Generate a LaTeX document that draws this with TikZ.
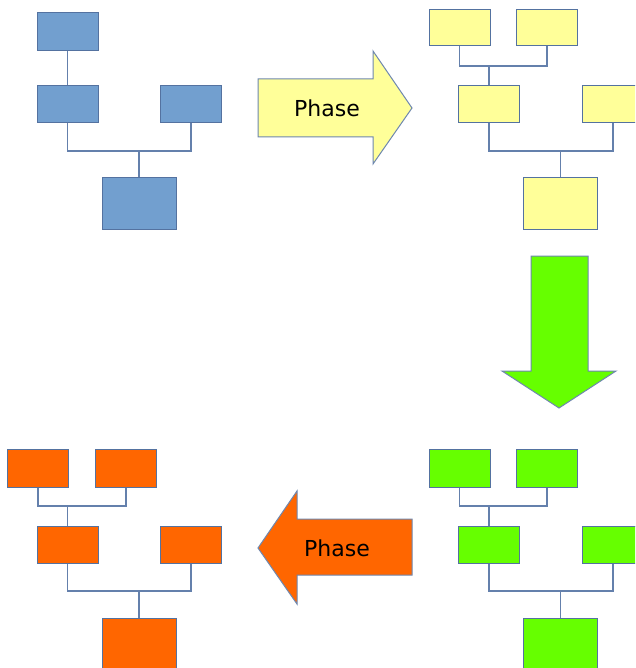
\documentclass[tikz,border=0pt]{standalone}
\usepackage{fontspec}
\setmainfont{DejaVu Sans}
\definecolor{bluefill}{RGB}{114,159,207}
\definecolor{yelfill}{RGB}{255,255,153}
\definecolor{grnfill}{RGB}{102,255,0}
\definecolor{orgfill}{RGB}{255,102,0}
\definecolor{boxline}{RGB}{84,114,160}
\definecolor{conline}{RGB}{100,128,172}
\definecolor{arrline}{RGB}{110,135,175}
\tikzset{
  bx/.style={draw=boxline, line width=1pt, inner sep=0pt, minimum width=61pt, minimum height=37pt},
  bigbx/.style={draw=boxline, line width=1pt, inner sep=0pt, minimum width=74pt, minimum height=51pt},
  con/.style={draw=conline, line width=1.5pt},
  arr/.style={draw=arrline, line width=1pt, line join=miter},
  lbl/.style={font=\fontsize{22}{26}\selectfont, text=black, inner sep=0pt}
}
\begin{document}
\begin{tikzpicture}[x=1pt,y=-1pt]
\clip (0,0) rectangle (635,668);
\fill[white] (0,0) rectangle (635,668);

% Blue tree
\node[bx, fill=bluefill, minimum height=38pt] (b1) at (67.5,32) {};
\node[bx, fill=bluefill] (b2) at (67.5,104.5) {};
\node[bx, fill=bluefill] (b3) at (191,104.5) {};
\node[bigbx, fill=bluefill] (b4) at (139,203.5) {};
\coordinate (bj) at (b4.north |- 0,151);
\draw[con] (b1.south) -- (b2.north);
\draw[con] (b2.south) |- (bj) -| (b3.south);
\draw[con] (bj) -- (b4.north);

% Yellow tree
\node[bx, fill=yelfill, minimum height=36pt] (y1) at (459.5,28) {};
\node[bx, fill=yelfill, minimum height=36pt] (y2) at (547,28) {};
\node[bx, fill=yelfill] (y3) at (489,104.5) {};
\node[bx, fill=yelfill] (y4) at (613,104.5) {};
\node[bigbx, fill=yelfill] (y5) at (560.5,203.5) {};
\coordinate (yja) at (y3.north |- 0,66);
\coordinate (yjb) at (y5.north |- 0,151);
\draw[con] (y1.south) |- (yja) -| (y2.south);
\draw[con] (yja) -- (y3.north);
\draw[con] (y3.south) |- (yjb) -| (y4.south);
\draw[con] (yjb) -- (y5.north);

% Green tree
\node[bx, fill=grnfill, minimum height=38pt] (g1) at (459.5,468) {};
\node[bx, fill=grnfill, minimum height=38pt] (g2) at (547,468) {};
\node[bx, fill=grnfill] (g3) at (489,544.5) {};
\node[bx, fill=grnfill] (g4) at (613,544.5) {};
\node[bigbx, fill=grnfill] (g5) at (560.5,643.5) {};
\coordinate (gja) at (g3.north |- 0,506);
\coordinate (gjb) at (g5.north |- 0,591);
\draw[con] (g1.south) |- (gja) -| (g2.south);
\draw[con] (gja) -- (g3.north);
\draw[con] (g3.south) |- (gjb) -| (g4.south);
\draw[con] (gjb) -- (g5.north);

% Orange tree
\node[bx, fill=orgfill, minimum height=38pt] (o1) at (38,468) {};
\node[bx, fill=orgfill, minimum height=38pt] (o2) at (126,468) {};
\node[bx, fill=orgfill] (o3) at (67.5,544.5) {};
\node[bx, fill=orgfill] (o4) at (191,544.5) {};
\node[bigbx, fill=orgfill] (o5) at (139,643.5) {};
\coordinate (oja) at (o3.north |- 0,506);
\coordinate (ojb) at (o5.north |- 0,591);
\draw[con] (o1.south) |- (oja) -| (o2.south);
\draw[con] (oja) -- (o3.north);
\draw[con] (o3.south) |- (ojb) -| (o4.south);
\draw[con] (ojb) -- (o5.north);

% Yellow arrow
\draw[arr, fill=yelfill] (258,79) -- (373,79) -- (373,51) -- (412,108) -- (373,164) -- (373,137) -- (258,137) -- cycle;
\node[lbl] (p1) at (327,108) {Phase};

% Green arrow
\draw[arr, fill=grnfill] (531,256) -- (588,256) -- (588,371) -- (616,371) -- (559,408) -- (502,371) -- (531,371) -- cycle;

% Orange arrow
\draw[arr, fill=orgfill] (412,519) -- (297,519) -- (297,491) -- (258,548) -- (297,604) -- (297,575) -- (412,575) -- cycle;
\node[lbl] (p2) at (337,548) {Phase};
\end{tikzpicture}
\end{document}
